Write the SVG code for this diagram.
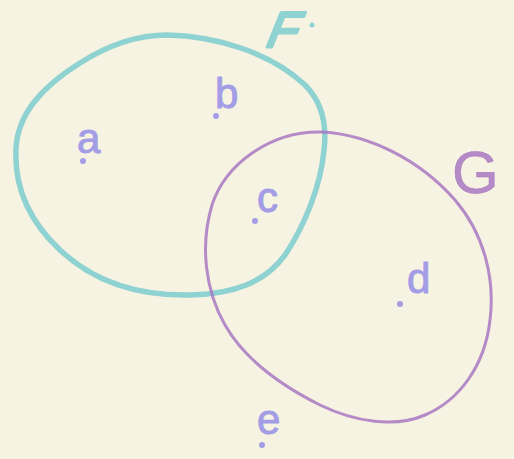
<svg xmlns="http://www.w3.org/2000/svg" width="514" height="459" viewBox="0 0 514 459">
<style>
.lbl{font-family:"Liberation Sans",Arial,sans-serif;fill:#a39de6;stroke:#a39de6;stroke-width:1;stroke-linejoin:round;font-size:42px}
.dot{fill:#a39de6}
.setF{fill:none;stroke:#8fd2d2;stroke-width:5.5;stroke-linecap:round}
.setG{fill:none;stroke:#a877c2;stroke-width:3;stroke-opacity:0.85}
.nameF{font-family:"Liberation Sans",Arial,sans-serif;fill:#8fd2d2;stroke:#8fd2d2;stroke-width:3;stroke-linejoin:round;font-size:50px}
.nameG{font-family:"Liberation Sans",Arial,sans-serif;fill:#a877c2;fill-opacity:0.85;stroke:#a877c2;stroke-width:0.5;font-size:60px}
</style>
<rect width="514" height="459" fill="#f7f3e2"/>
<g id="set-F">
<path class="setF" d="M167,35 C215,36 270,52 305,85 C322,102 327,125 324,150 C321,185 305,225 285,255 C265,282 235,294 190,295 C140,296 95,283 60,250 C28,220 14,185 16,148 C18,115 40,88 80,63 C105,47 135,35 167,35 Z"/>
<text class="nameF" x="264" y="47" transform="skewX(-22) translate(18,0)">F</text>
<circle cx="312" cy="25" r="2.5" fill="#8fd2d2"/>
</g>
<g id="set-G">
<path class="setG" d="M323,132 C370,135 420,160 455,200 C485,235 495,280 490,320 C485,365 460,400 425,415 C395,428 355,422 320,405 C280,385 245,360 225,325 C205,290 200,245 212,205 C225,165 270,130 323,132 Z"/>
<text class="nameG" x="452" y="193">G</text>
</g>
<g id="elem-a"><text class="lbl" x="77" y="153">a</text><circle class="dot" cx="83" cy="161" r="3"/></g>
<g id="elem-b"><text class="lbl" x="215" y="108">b</text><circle class="dot" cx="216" cy="116" r="3"/></g>
<g id="elem-c"><text class="lbl" x="257" y="212">c</text><circle class="dot" cx="255" cy="221" r="3"/></g>
<g id="elem-d"><text class="lbl" x="407" y="293">d</text><circle class="dot" cx="400" cy="304" r="3"/></g>
<g id="elem-e"><text class="lbl" x="257" y="434">e</text><circle class="dot" cx="262" cy="445" r="3"/></g>
</svg>
